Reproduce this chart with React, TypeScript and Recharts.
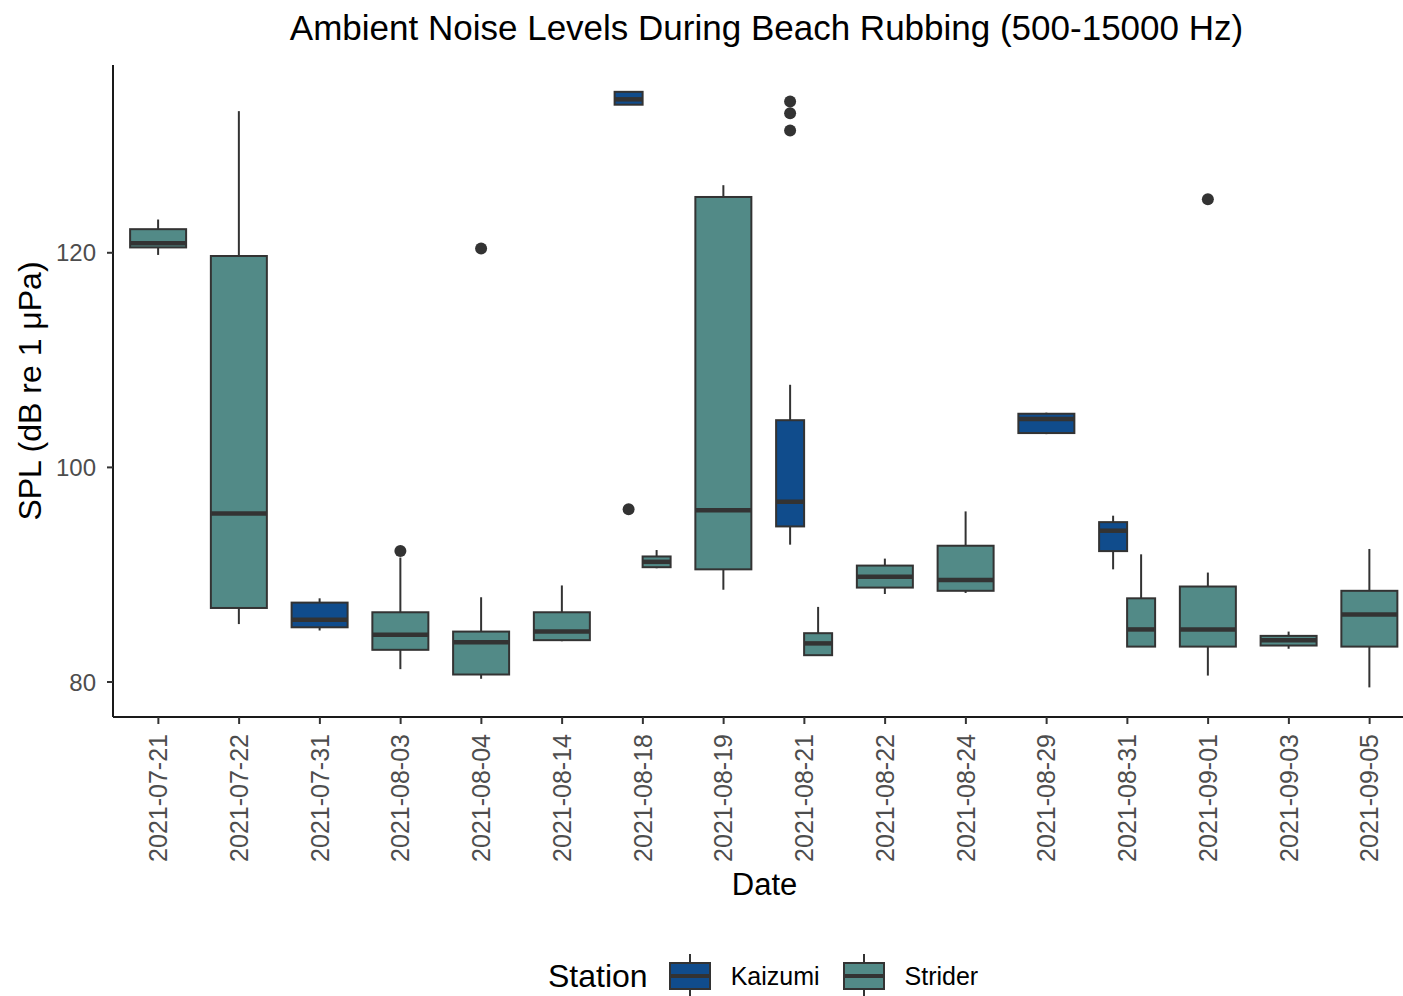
import { Bar, ComposedChart, XAxis, YAxis } from 'recharts'

// Ambient noise box plots, one box per station per date (ggplot-style dodge)

const DATES = [
  '2021-07-21', '2021-07-22', '2021-07-31', '2021-08-03', '2021-08-04', '2021-08-14',
  '2021-08-18', '2021-08-19', '2021-08-21', '2021-08-22', '2021-08-24', '2021-08-29',
  '2021-08-31', '2021-09-01', '2021-09-03', '2021-09-05',
]

// [lower whisker, Q1, median, Q3, upper whisker]
type Stats = [number, number, number, number, number] | null

const KAIZUMI_STATS: Stats[] = [
  null, null, [84.8, 85.1, 85.8, 87.4, 87.8], null, null, null,
  [133.8, 133.8, 134.3, 135.0, 135.0], null, [92.8, 94.5, 96.8, 104.4, 107.7], null, null,
  [103.1, 103.2, 104.5, 105.0, 105.1], [90.5, 92.2, 94.1, 94.9, 95.5], null, null, null,
]
const KAIZUMI_OUTLIERS: number[][] = [
  [], [], [], [], [], [], [96.1], [], [131.4, 133.0, 134.1], [], [], [], [], [], [], [],
]

const STRIDER_STATS: Stats[] = [
  [119.8, 120.5, 120.9, 122.2, 123.1], [85.4, 86.9, 95.7, 119.7, 133.2], null,
  [81.2, 83.0, 84.4, 86.5, 91.6], [80.3, 80.7, 83.7, 84.7, 87.9], [83.8, 83.9, 84.7, 86.5, 89.0],
  [90.6, 90.7, 91.2, 91.7, 92.3], [88.6, 90.5, 96.0, 125.2, 126.3], [82.5, 82.5, 83.6, 84.55, 87.0],
  [88.2, 88.8, 89.8, 90.85, 91.5], [88.3, 88.5, 89.5, 92.7, 95.9], null,
  [83.3, 83.3, 84.9, 87.8, 91.9], [80.6, 83.3, 84.9, 88.9, 90.2], [83.1, 83.4, 83.9, 84.3, 84.7],
  [79.5, 83.3, 86.3, 88.5, 92.4],
]
const STRIDER_OUTLIERS: number[][] = [
  [], [], [], [92.2], [120.4], [], [], [], [], [], [], [], [], [125.0], [], [],
]

const Y_TICKS = [80, 100, 120]

const COLORS: Record<string, string> = { kaizumi: '#104c8c', strider: '#528a87' }
const INK = '#333333'
const FONT = '"Liberation Sans", Arial, sans-serif'

function toBox(s: Stats, out: number[]) {
  if (!s) return null
  const [lo, q1, med, q3, hi] = s
  return {
    lo, q1, med, q3, hi, out,
    range: [Math.min(lo, ...out), Math.max(hi, ...out)],
  }
}

const rows = DATES.map((date, i) => ({
  date,
  kaizumi: toBox(KAIZUMI_STATS[i], KAIZUMI_OUTLIERS[i]),
  strider: toBox(STRIDER_STATS[i], STRIDER_OUTLIERS[i]),
}))

function BoxShape(props: any) {
  const { x, y, width, height, payload, station } = props
  const b = payload[station]
  if (!b) return null
  const other = station === 'kaizumi' ? payload.strider : payload.kaizumi
  const top = Math.min(y, y + height)
  const bot = Math.max(y, y + height)
  const [lo, hi] = b.range
  const py = (v: number) => bot - ((v - lo) / (hi - lo)) * (bot - top)
  // single station on a date -> box takes the whole dodge width
  let left = x
  let w = width
  if (!other) {
    w = width * 2
    if (station === 'strider') left = x - width
  }
  const cx = left + w / 2
  return (
    <g>
      <line x1={cx} x2={cx} y1={py(b.hi)} y2={py(b.q3)} stroke={INK} strokeWidth={2} />
      <line x1={cx} x2={cx} y1={py(b.q1)} y2={py(b.lo)} stroke={INK} strokeWidth={2} />
      <rect x={left} y={py(b.q3)} width={w} height={py(b.q1) - py(b.q3)} fill={COLORS[station]} stroke={INK} strokeWidth={2} />
      <line x1={left} x2={left + w} y1={py(b.med)} y2={py(b.med)} stroke={INK} strokeWidth={4.5} />
      {b.out.map((v: number, i: number) => (
        <circle key={i} cx={cx} cy={py(v)} r={6} fill={INK} />
      ))}
    </g>
  )
}

function DateTick({ x, y, payload }: any) {
  return (
    <text x={x} y={y} transform={`rotate(-90, ${x}, ${y})`} textAnchor="end" dy="0.35em"
      fill="#4d4d4d" fontSize={25} fontFamily={FONT}>
      {payload.value}
    </text>
  )
}

function LegendKey({ color }: { color: string }) {
  return (
    <svg width={44} height={44} style={{ display: 'block' }}>
      <line x1={22} x2={22} y1={0} y2={44} stroke={INK} strokeWidth={2} />
      <rect x={2} y={9} width={40} height={26} fill={color} stroke={INK} strokeWidth={2} />
      <line x1={2} x2={42} y1={22} y2={22} stroke={INK} strokeWidth={4} />
    </svg>
  )
}

export default function App() {
  return (
    <div style={{ position: 'absolute', left: 0, top: 0, width: 1403, height: 996, overflow: 'hidden', background: '#fff', fontFamily: FONT }}>
      <ComposedChart width={1410} height={996} data={rows} margin={{ top: 65, right: 0, bottom: 129, left: 53 }}
        barCategoryGap="15%" barGap={0}>
        <XAxis dataKey="date" type="category" interval={0} padding={{ left: 5, right: 0 }} height={150}
          axisLine={{ stroke: '#1a1a1a', strokeWidth: 2 }} tickLine={{ stroke: INK, strokeWidth: 2 }}
          tickSize={7} tickMargin={10} tick={<DateTick />} />
        <YAxis type="number" domain={[76.74, 137.5]} ticks={Y_TICKS} allowDataOverflow width={60}
          axisLine={{ stroke: '#1a1a1a', strokeWidth: 2 }} tickLine={{ stroke: INK, strokeWidth: 2 }}
          tickSize={6} tickMargin={11} tick={{ fill: '#4d4d4d', fontSize: 24, fontFamily: FONT }} />
        <Bar dataKey={(r: any) => (r.kaizumi ? r.kaizumi.range : null)} name="Kaizumi" isAnimationActive={false}
          shape={(p: any) => <BoxShape {...p} station="kaizumi" />} />
        <Bar dataKey={(r: any) => (r.strider ? r.strider.range : null)} name="Strider" isAnimationActive={false}
          shape={(p: any) => <BoxShape {...p} station="strider" />} />
      </ComposedChart>

      <div style={{ position: 'absolute', left: 118, width: 1297, top: 7, textAlign: 'center', fontSize: 35, lineHeight: '42px', color: '#000', whiteSpace: 'nowrap' }}>
        Ambient Noise Levels During Beach Rubbing (500-15000 Hz)
      </div>
      <div style={{ position: 'absolute', left: 30, top: 391, transform: 'translate(-50%, -50%) rotate(-90deg)', whiteSpace: 'nowrap', fontSize: 32, lineHeight: '40px' }}>
        SPL (dB re 1 μPa)
      </div>
      <div style={{ position: 'absolute', left: 116, width: 1297, top: 865, textAlign: 'center', fontSize: 31, lineHeight: '40px' }}>
        Date
      </div>
      <div style={{ position: 'absolute', left: 548, top: 954, height: 44, display: 'flex', alignItems: 'center' }}>
        <span style={{ fontSize: 32, marginRight: 20 }}>Station</span>
        <LegendKey color={COLORS.kaizumi} />
        <span style={{ fontSize: 25, marginLeft: 19, marginRight: 22 }}>Kaizumi</span>
        <LegendKey color={COLORS.strider} />
        <span style={{ fontSize: 25, marginLeft: 19 }}>Strider</span>
      </div>
    </div>
  )
}
